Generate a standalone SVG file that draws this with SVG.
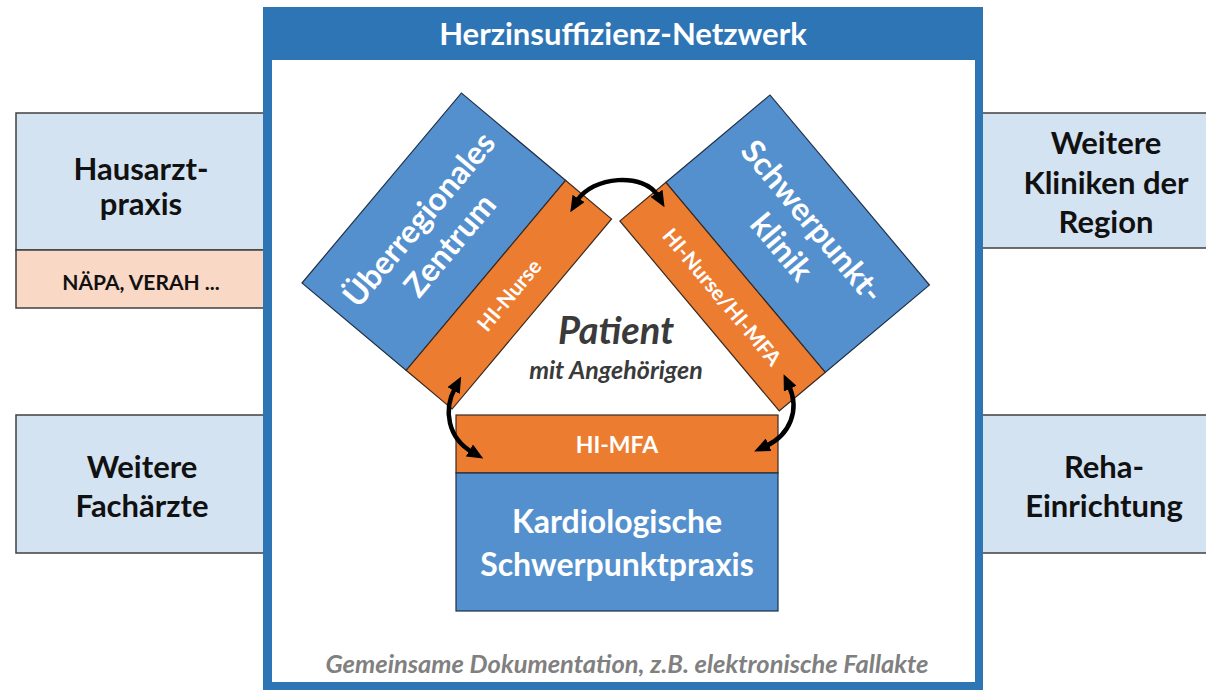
<svg xmlns="http://www.w3.org/2000/svg" width="1206" height="694" viewBox="0 0 1206 694">
<style>
text{font-family:Lato,"Open Sans","Liberation Sans",sans-serif;font-weight:bold;text-anchor:middle}
.side{fill:#D4E3F2;stroke:#404040;stroke-width:1.5}
.peach{fill:#F9D8C6;stroke:#404040;stroke-width:1.5}
.blue{fill:#5590CE;stroke:#1F2F45;stroke-width:1.2}
.orange{fill:#EC7C30;stroke:#3A2A20;stroke-width:1.2}
.dark{fill:#111;font-size:31px}
.wt{fill:#fff}
.big{font-size:32px}
.small{font-size:21px}
.arrow{fill:none;stroke:#000;stroke-width:4.5;marker-start:url(#ah);marker-end:url(#ah)}
</style>
<defs>
<marker id="ah" viewBox="0 0 16 14" markerWidth="16" markerHeight="14" markerUnits="userSpaceOnUse" refX="3" refY="7" orient="auto-start-reverse">
<path d="M0,0 L16,7 L0,14 z" fill="#000"/>
</marker>
</defs>
<rect width="1206" height="694" fill="#fff"/>

<g id="hausarzt">
<rect class="side" x="16" y="113" width="252" height="137"/>
<rect class="peach" x="16" y="250" width="252" height="58"/>
<text class="dark" x="141" y="180">Hausarzt-</text>
<text class="dark" x="141" y="215">praxis</text>
<text x="141" y="290" style="font-size:21px;fill:#111">NÄPA, VERAH ...</text>
</g>
<g id="fachaerzte">
<rect class="side" x="16" y="415" width="252" height="138"/>
<text class="dark" x="142" y="478">Weitere</text>
<text class="dark" x="142" y="517">Fachärzte</text>
</g>
<g id="kliniken">
<rect class="side" x="978" y="113" width="240" height="135"/>
<text class="dark" x="1106" y="154">Weitere</text>
<text class="dark" x="1106" y="194">Kliniken der</text>
<text class="dark" x="1106" y="233">Region</text>
</g>
<g id="reha">
<rect class="side" x="978" y="415" width="240" height="138"/>
<text class="dark" x="1104" y="478">Reha-</text>
<text class="dark" x="1104" y="517">Einrichtung</text>
</g>

<g id="netzwerk">
<rect x="263" y="7" width="720" height="683" fill="#2E75B6"/>
<rect x="272" y="60" width="703" height="622" fill="#fff"/>
<text class="wt" x="623" y="45" style="font-size:31px">Herzinsuffizienz-Netzwerk</text>
<text x="627" y="673" style="font-size:25.5px;font-style:italic;fill:#808080">Gemeinsame Dokumentation, z.B. elektronische Fallakte</text>
</g>

<g id="zentrum" transform="translate(302,283) rotate(-50)">
<rect class="blue" x="0" y="0" width="248" height="136"/>
<rect class="orange" x="0" y="136" width="248" height="60"/>
<text class="wt big" x="124" y="60">Überregionales</text>
<text class="wt big" x="124" y="100">Zentrum</text>
<text class="wt small" x="124" y="174">HI-Nurse</text>
</g>

<g id="klinik" transform="translate(770,95) rotate(50)">
<rect class="blue" x="0" y="0" width="248" height="136"/>
<rect class="orange" x="0" y="136" width="248" height="60"/>
<text class="wt big" x="124" y="60">Schwerpunkt-</text>
<text class="wt big" x="124" y="100">klinik</text>
<text class="wt small" x="124" y="174">HI-Nurse/HI-MFA</text>
</g>

<g id="patient">
<text x="616" y="344" style="font-size:38px;font-style:italic;fill:#3A3A3A">Patient</text>
<text x="616" y="379" style="font-size:25px;font-style:italic;fill:#3A3A3A">mit Angehörigen</text>
</g>

<g id="praxis">
<rect class="orange" x="456" y="415" width="322" height="58"/>
<rect class="blue" x="456" y="473" width="322" height="138"/>
<text class="wt" x="617" y="453" style="font-size:23px">HI-MFA</text>
<text class="wt" x="617" y="533" style="font-size:32px">Kardiologische</text>
<text class="wt" x="617" y="576" style="font-size:32px">Schwerpunktpraxis</text>
</g>

<g id="connectors">
<path class="arrow" d="M577,201 C592,176 644,172 658,196"/>
<path class="arrow" d="M455,388 C443,410 448,438 472,452"/>
<path class="arrow" d="M789,386 C800,410 790,435 766,446"/>
</g>
</svg>
